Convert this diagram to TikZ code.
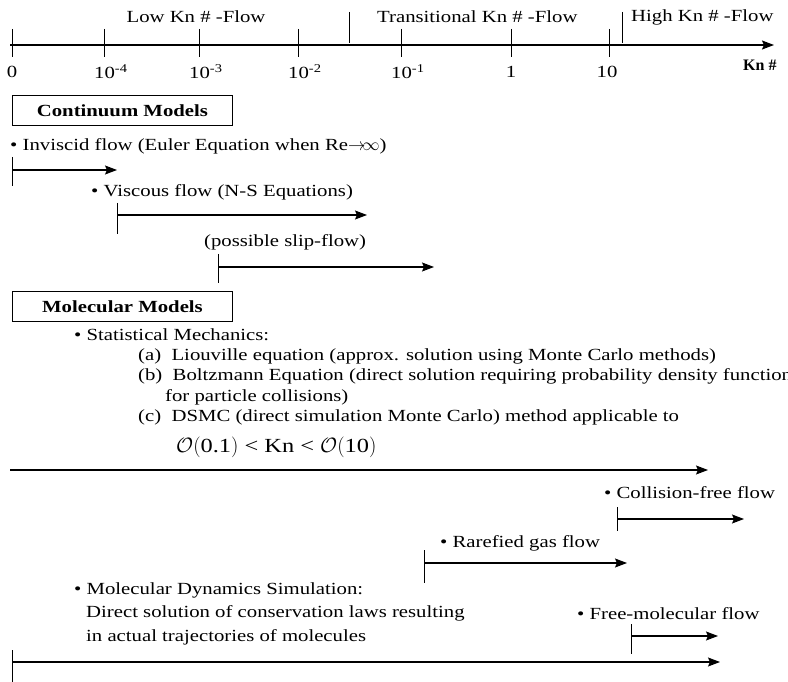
\documentclass[tikz,border=0pt]{standalone}
\usepackage{fontspec}
\setmainfont[FakeStretch=1.22]{Liberation Serif}
\newfontfamily\knfont{Liberation Serif}
\usetikzlibrary{arrows.meta}
\begin{document}
\begin{tikzpicture}[x=1pt,y=-1pt,
  txt/.style={anchor=west,inner sep=0pt,font=\fontsize{17}{20}\selectfont},
  lbl/.style={anchor=center,inner sep=0pt,font=\fontsize{17}{20}\selectfont},
  hdr/.style={draw,line width=0.9pt,minimum width=220pt,minimum height=30pt,anchor=north west,inner sep=0pt,font=\fontsize{17}{20}\selectfont\bfseries},
  arr/.style={-{Stealth[length=12pt,width=9pt,inset=2pt]},line width=1.2pt},
  tick/.style={line width=0.8pt}]
\clip (0,0) rectangle (788,682);
% axis
\coordinate (ax0) at (10,45);
\coordinate (ax1) at (774,45);
\draw[arr,line width=1.5pt] (ax0) -- (ax1);
\foreach \n/\x in {t0/12,t4/104,t3/199,t2/298,t1/401,tone/511,tten/609}{
  \coordinate (\n a) at (\x,29); \coordinate (\n b) at (\x,57);
  \draw[tick] (\n a) -- (\n b);
}
\coordinate (d1a) at (349,12); \coordinate (d1b) at (349,43);
\coordinate (d2a) at (622,12); \coordinate (d2b) at (622,43);
\draw[tick] (d1a) -- (d1b);
\draw[tick] (d2a) -- (d2b);
\node[lbl] (low) at (196,17) {Low Kn \# -Flow};
\node[txt] (trans) at (377,17) {Transitional Kn \# -Flow};
\node[txt] (high) at (631,17) {High Kn \# -Flow};
\node[lbl] (l0) at (12,72) {0};
\node[txt] (l4) at (94,72) {10\textsuperscript{-4}};
\node[txt] (l3) at (189,72) {10\textsuperscript{-3}};
\node[txt] (l2) at (288,72) {10\textsuperscript{-2}};
\node[txt] (l1) at (391,72) {10\textsuperscript{-1}};
\node[lbl] (lone) at (511,72) {1};
\node[lbl] (lten) at (607,72) {10};
\node[txt,font=\knfont\fontsize{16}{18}\selectfont\bfseries] (kn) at (743,65) {Kn \#};
% continuum
\node[hdr] (cont) at (12,95) {Continuum Models};
\node[txt] (inv) at (10,146) {\textbullet{} Inviscid flow (Euler Equation when Re$\mathord{\rightarrow}\mkern-3mu\mathord{\infty}$)};
\coordinate (a1s) at (12,170); \coordinate (a1e) at (117,170);
\coordinate (a1t) at (12,157); \coordinate (a1b) at (12,186);
\draw[tick] (a1t) -- (a1b);
\draw[arr] (a1s) -- (a1e);
\node[txt] (visc) at (91,192) {\textbullet{} Viscous flow (N-S Equations)};
\coordinate (a2s) at (117,215); \coordinate (a2e) at (367,215);
\coordinate (a2t) at (117,203); \coordinate (a2b) at (117,234);
\draw[tick] (a2t) -- (a2b);
\draw[arr] (a2s) -- (a2e);
\node[txt] (slip) at (204,242) {(possible slip-flow)};
\coordinate (a3s) at (218,267); \coordinate (a3e) at (434,267);
\coordinate (a3t) at (218,254); \coordinate (a3b) at (218,283);
\draw[tick] (a3t) -- (a3b);
\draw[arr] (a3s) -- (a3e);
% molecular
\node[hdr] (mol) at (12,291) {Molecular Models};
\node[txt] (stat) at (74,335) {\textbullet{} Statistical Mechanics:};
\node[txt] (ia) at (138,356) {(a)\ \ Liouville equation (approx. solution using Monte Carlo methods)};
\node[txt] (ib) at (138,376) {(b)\ \ Boltzmann Equation (direct solution requiring probability density function};
\node[txt] (ib2) at (165,397) {for particle collisions)};
\node[txt] (ic) at (138,417) {(c)\ \ DSMC (direct simulation Monte Carlo) method applicable to};
\node[txt,font=\fontsize{20}{24}\selectfont] (oeq) at (176,447) {$\mathcal{O}\bigl(\mbox{0.1}\bigr)$ < Kn < $\mathcal{O}\bigl(\mbox{10}\bigr)$};
\coordinate (a4s) at (10,470); \coordinate (a4e) at (708,470);
\draw[arr] (a4s) -- (a4e);
\node[txt] (coll) at (604,493) {\textbullet{} Collision-free flow};
\coordinate (a5s) at (617,519); \coordinate (a5e) at (744,519);
\coordinate (a5t) at (617,507); \coordinate (a5b) at (617,531);
\draw[tick] (a5t) -- (a5b);
\draw[arr] (a5s) -- (a5e);
\node[txt] (rare) at (440,543) {\textbullet{} Rarefied gas flow};
\coordinate (a6s) at (424,563); \coordinate (a6e) at (627,563);
\coordinate (a6t) at (424,550); \coordinate (a6b) at (424,583);
\draw[tick] (a6t) -- (a6b);
\draw[arr] (a6s) -- (a6e);
\node[txt] (md) at (74,590) {\textbullet{} Molecular Dynamics Simulation:};
\node[txt] (md2) at (86,613) {Direct solution of conservation laws resulting};
\node[txt] (md3) at (86,637) {in actual trajectories of molecules};
\node[txt] (free) at (577,614) {\textbullet{} Free-molecular flow};
\coordinate (a7s) at (631,636); \coordinate (a7e) at (718,636);
\coordinate (a7t) at (631,624); \coordinate (a7b) at (631,654);
\draw[tick] (a7t) -- (a7b);
\draw[arr] (a7s) -- (a7e);
\coordinate (a8s) at (12,662); \coordinate (a8e) at (720,662);
\coordinate (a8t) at (12,650); \coordinate (a8b) at (12,682);
\draw[tick] (a8t) -- (a8b);
\draw[arr] (a8s) -- (a8e);
\end{tikzpicture}
\end{document}
